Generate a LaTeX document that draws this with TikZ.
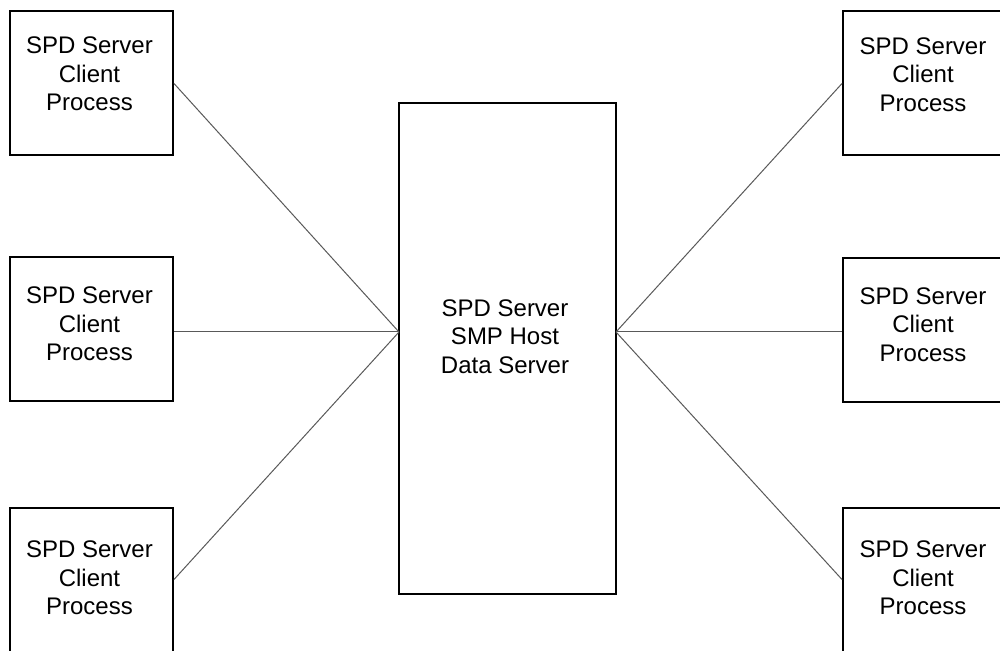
\documentclass[tikz,border=0pt]{standalone}
\usepackage{fontspec}
\setmainfont{Liberation Sans}
\tikzset{
  client/.style={draw, line width=1pt, minimum width=81.5pt, minimum height=72pt, inner sep=0pt},
  hub/.style={draw, line width=1pt, minimum width=108.5pt, minimum height=245.5pt, inner sep=0pt},
  lbl/.style={align=center, inner sep=0pt, font=\fontsize{12}{14.3}\selectfont},
  link/.style={draw=black!65, line width=0.5pt}
}
\begin{document}
\begin{tikzpicture}[x=0.5pt, y=-0.5pt]
    \clip (0, 0) rectangle (1000, 651);
    \fill[white] (0, 0) rectangle (1000, 651);

    \node[hub] (host) at (507.5, 348.5) {};
    \node[lbl] (hosttxt) at (505, 336.5) {SPD Server\\SMP Host\\Data Server};
    \coordinate (hubL) at (399, 332);
    \coordinate (hubR) at (616, 332);

    \node[client] (L1) at (91.5, 83.5) {};
    \node[client] (L2) at (91.5, 329.5) {};
    \node[client] (L3) at (91.5, 579.5) {};
    \node[client] (R1) at (924.5, 83.5) {};
    \node[client] (R2) at (924.5, 330.5) {};
    \node[client] (R3) at (924.5, 579.5) {};

    \node[lbl] (L1txt) at (89.5, 74) {SPD Server\\Client\\Process};
    \node[lbl] (L2txt) at (89.5, 324) {SPD Server\\Client\\Process};
    \node[lbl] (L3txt) at (89.5, 578) {SPD Server\\Client\\Process};
    \node[lbl] (R1txt) at (923, 74.5) {SPD Server\\Client\\Process};
    \node[lbl] (R2txt) at (923, 324.5) {SPD Server\\Client\\Process};
    \node[lbl] (R3txt) at (923, 578) {SPD Server\\Client\\Process};

    \draw[link] (L1.east) -- (hubL);
    \draw[link] (hubL -| L2.east) -- (hubL);
    \draw[link] (L3.east) -- (hubL);
    \draw[link] (R1.west) -- (hubR);
    \draw[link] (hubR -| R2.west) -- (hubR);
    \draw[link] (R3.west) -- (hubR);
\end{tikzpicture}
\end{document}
